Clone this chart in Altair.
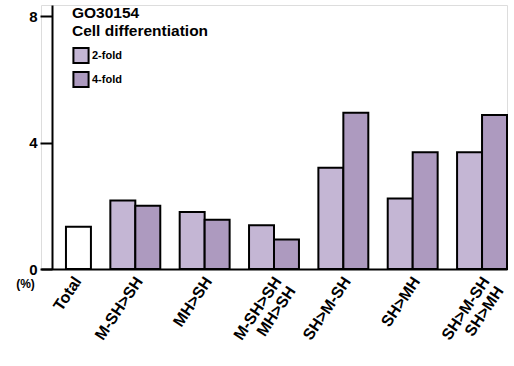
import altair as alt
import pandas as pd

# Gene-set enrichment (%) by expression-pattern category
groups = ["Total", "M-SH>SH", "MH>SH", "M-SH>SH MH>SH", "SH>M-SH", "SH>MH", "SH>M-SH SH>MH"]
total_value = 1.34
fold2 = [2.17, 1.80, 1.38, 3.20, 2.23, 3.69]
fold4 = [2.00, 1.56, 0.93, 4.94, 3.69, 4.87]

rows = [{"group": "Total", "series": "Total", "slot": "b", "value": total_value}]
for g, a, b in zip(groups[1:], fold2, fold4):
    rows.append({"group": g, "series": "2-fold", "slot": "a", "value": a})
    rows.append({"group": g, "series": "4-fold", "slot": "b", "value": b})
df = pd.DataFrame(rows)

FONT = "Liberation Sans"

bars = alt.Chart(df).mark_bar(stroke="black", strokeWidth=2).encode(
    x=alt.X(
        "group:N",
        sort=groups,
        scale=alt.Scale(paddingInner=0.28, paddingOuter=0),
        axis=alt.Axis(
            title=None,
            ticks=False,
            domainColor="black",
            domainWidth=2,
            labelAngle=-56,
            labelAlign="right",
            labelBaseline="middle",
            labelFont=FONT,
            labelFontWeight="bold",
            labelFontSize=16,
            labelColor="black",
            labelPadding=9,
            labelLineHeight=17,
            labelOffset={"condition": {"test": "datum.value == 'Total'", "value": 12}, "value": 4},
            labelExpr="split(datum.label, ' ')",
        ),
    ),
    xOffset=alt.XOffset("slot:N", scale=alt.Scale(domain=["a", "b"], paddingInner=0, paddingOuter=0)),
    y=alt.Y(
        "value:Q",
        scale=alt.Scale(domain=[0, 8.35], nice=False),
        axis=alt.Axis(
            values=[0, 4, 8],
            grid=False,
            offset=-11,
            tickSize=12,
            tickWidth=2,
            tickColor="black",
            domainColor="black",
            domainWidth=2,
            labelFont=FONT,
            labelFontWeight="bold",
            labelFontSize=15,
            labelColor="black",
            labelPadding=3,
            title="(%)",
            titleAngle=0,
            titleFont=FONT,
            titleFontWeight="bold",
            titleFontSize=12,
            titleColor="black",
            titleAlign="center",
            titleBaseline="middle",
            titleX=-27,
            titleY=278,
        ),
    ),
    fill=alt.Fill(
        "series:N",
        scale=alt.Scale(domain=["2-fold", "4-fold", "Total"], range=["#c4b6d4", "#ad9abf", "white"]),
        legend=alt.Legend(
            values=["2-fold", "4-fold"],
            title=["GO30154", "Cell differentiation"],
            titleFont=FONT,
            titleFontWeight="bold",
            titleFontSize=15.5,
            titleColor="black",
            titleLineHeight=18,
            titlePadding=7,
            labelFont=FONT,
            labelFontWeight="bold",
            labelFontSize=11,
            labelColor="black",
            labelOffset=2,
            symbolType="square",
            symbolSize=230,
            symbolStrokeColor="black",
            symbolStrokeWidth=2,
            symbolOpacity=1,
            rowPadding=0,
            orient="none",
            legendX=31,
            legendY=1,
        ),
    ),
)

chart = bars.properties(
    width=466,
    height=264,
    autosize=alt.AutoSizeParams(type="none"),
    padding={"left": 41, "top": 5, "right": 7, "bottom": 97},
).configure_view(stroke=None).configure(background="white")

chart.save("out.html", embed_options={"renderer": "svg", "actions": False})
